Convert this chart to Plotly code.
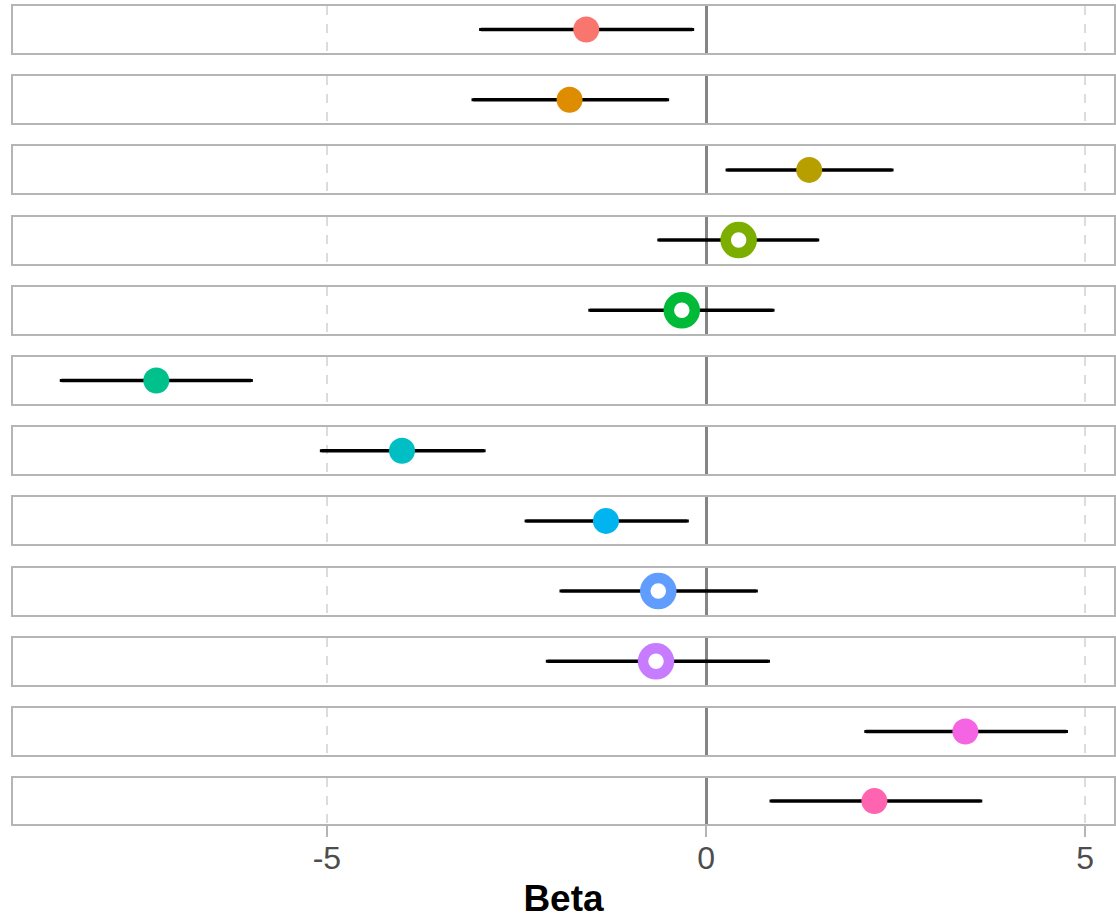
import plotly.graph_objects as go

estimates = [-1.58, -1.80, 1.36, 0.43, -0.32, -7.25, -4.01, -1.32, -0.63, -0.66, 3.42, 2.22]
lower = [-2.97, -3.07, 0.28, -0.62, -1.53, -8.50, -5.07, -2.37, -1.91, -2.09, 2.11, 0.86]
upper = [-0.18, -0.51, 2.45, 1.47, 0.88, -6.00, -2.93, -0.25, 0.66, 0.82, 4.75, 3.62]
colors = ["#F8766D", "#DE8C00", "#B79F00", "#7CAE00", "#00BA38", "#00C08B",
          "#00BFC4", "#00B4F0", "#619CFF", "#C77CFF", "#F564E3", "#FF64B0"]
hollow = [False, False, False, True, True, False, False, False, True, True, False, False]
tick_vals = [-5, 0, 5]
tick_text = ["-5", "0", "5"]

W, H = 1116, 919
mt, mb, ml, mr = 6, 95, 13, 0
ph = H - mt - mb
step = 70.2
panel_h = 47
xrange = [-9.14, 5.38]

fig = go.Figure()
layout = {}
n = len(estimates)
for i in range(n):
    k = "" if i == 0 else str(i + 1)
    top = 1 - (step * i) / ph
    bot = 1 - (step * i + panel_h) / ph
    last = i == n - 1
    if hollow[i]:
        marker = dict(size=26, color="white", line=dict(color=colors[i], width=10.5))
    else:
        marker = dict(size=26, color=colors[i], line=dict(width=0))
    fig.add_trace(go.Scatter(
        x=[estimates[i]], y=[0], mode="markers",
        marker=marker,
        error_x=dict(type="data", symmetric=False,
                     array=[upper[i] - estimates[i]],
                     arrayminus=[estimates[i] - lower[i]],
                     color="black", thickness=3.5, width=1.5),
        xaxis="x" + k, yaxis="y" + k, showlegend=False, cliponaxis=False,
        hoverinfo="skip",
    ))
    layout["xaxis" + k] = dict(
        domain=[0, 1], anchor="y" + k, range=xrange,
        tickvals=tick_vals, ticktext=tick_text,
        showgrid=True, gridcolor="#dcdcdc", gridwidth=1.6, griddash="dash",
        zeroline=True, zerolinecolor="#858585", zerolinewidth=3,
        showline=True, mirror=True, linecolor="#b5b5b5", linewidth=2,
        ticks="outside" if last else "", ticklen=11, tickwidth=2, tickcolor="#b5b5b5",
        showticklabels=last,
        ticklabelstandoff=-6 if last else 0,
        tickfont=dict(family="Liberation Sans, Arial, sans-serif", size=32, color="#4d4d4d"),
        title=dict(text="<b>Beta</b>", standoff=10,
                   font=dict(family="Liberation Sans, Arial, sans-serif", size=37, color="black")) if last else None,
    )
    layout["yaxis" + k] = dict(
        domain=[max(bot, 0), top], anchor="x" + k, range=[-1, 1],
        showgrid=False, zeroline=False, showticklabels=False, ticks="",
        showline=True, mirror=True, linecolor="#b5b5b5", linewidth=2,
        fixedrange=True,
    )

fig.update_layout(
    width=W, height=H,
    margin=dict(t=mt, b=mb, l=ml, r=mr),
    paper_bgcolor="white", plot_bgcolor="white",
    **layout,
)
fig.write_html("out.html", config={"displayModeBar": False},
               post_script="document.body.style.margin='0';document.body.style.overflow='hidden';")
